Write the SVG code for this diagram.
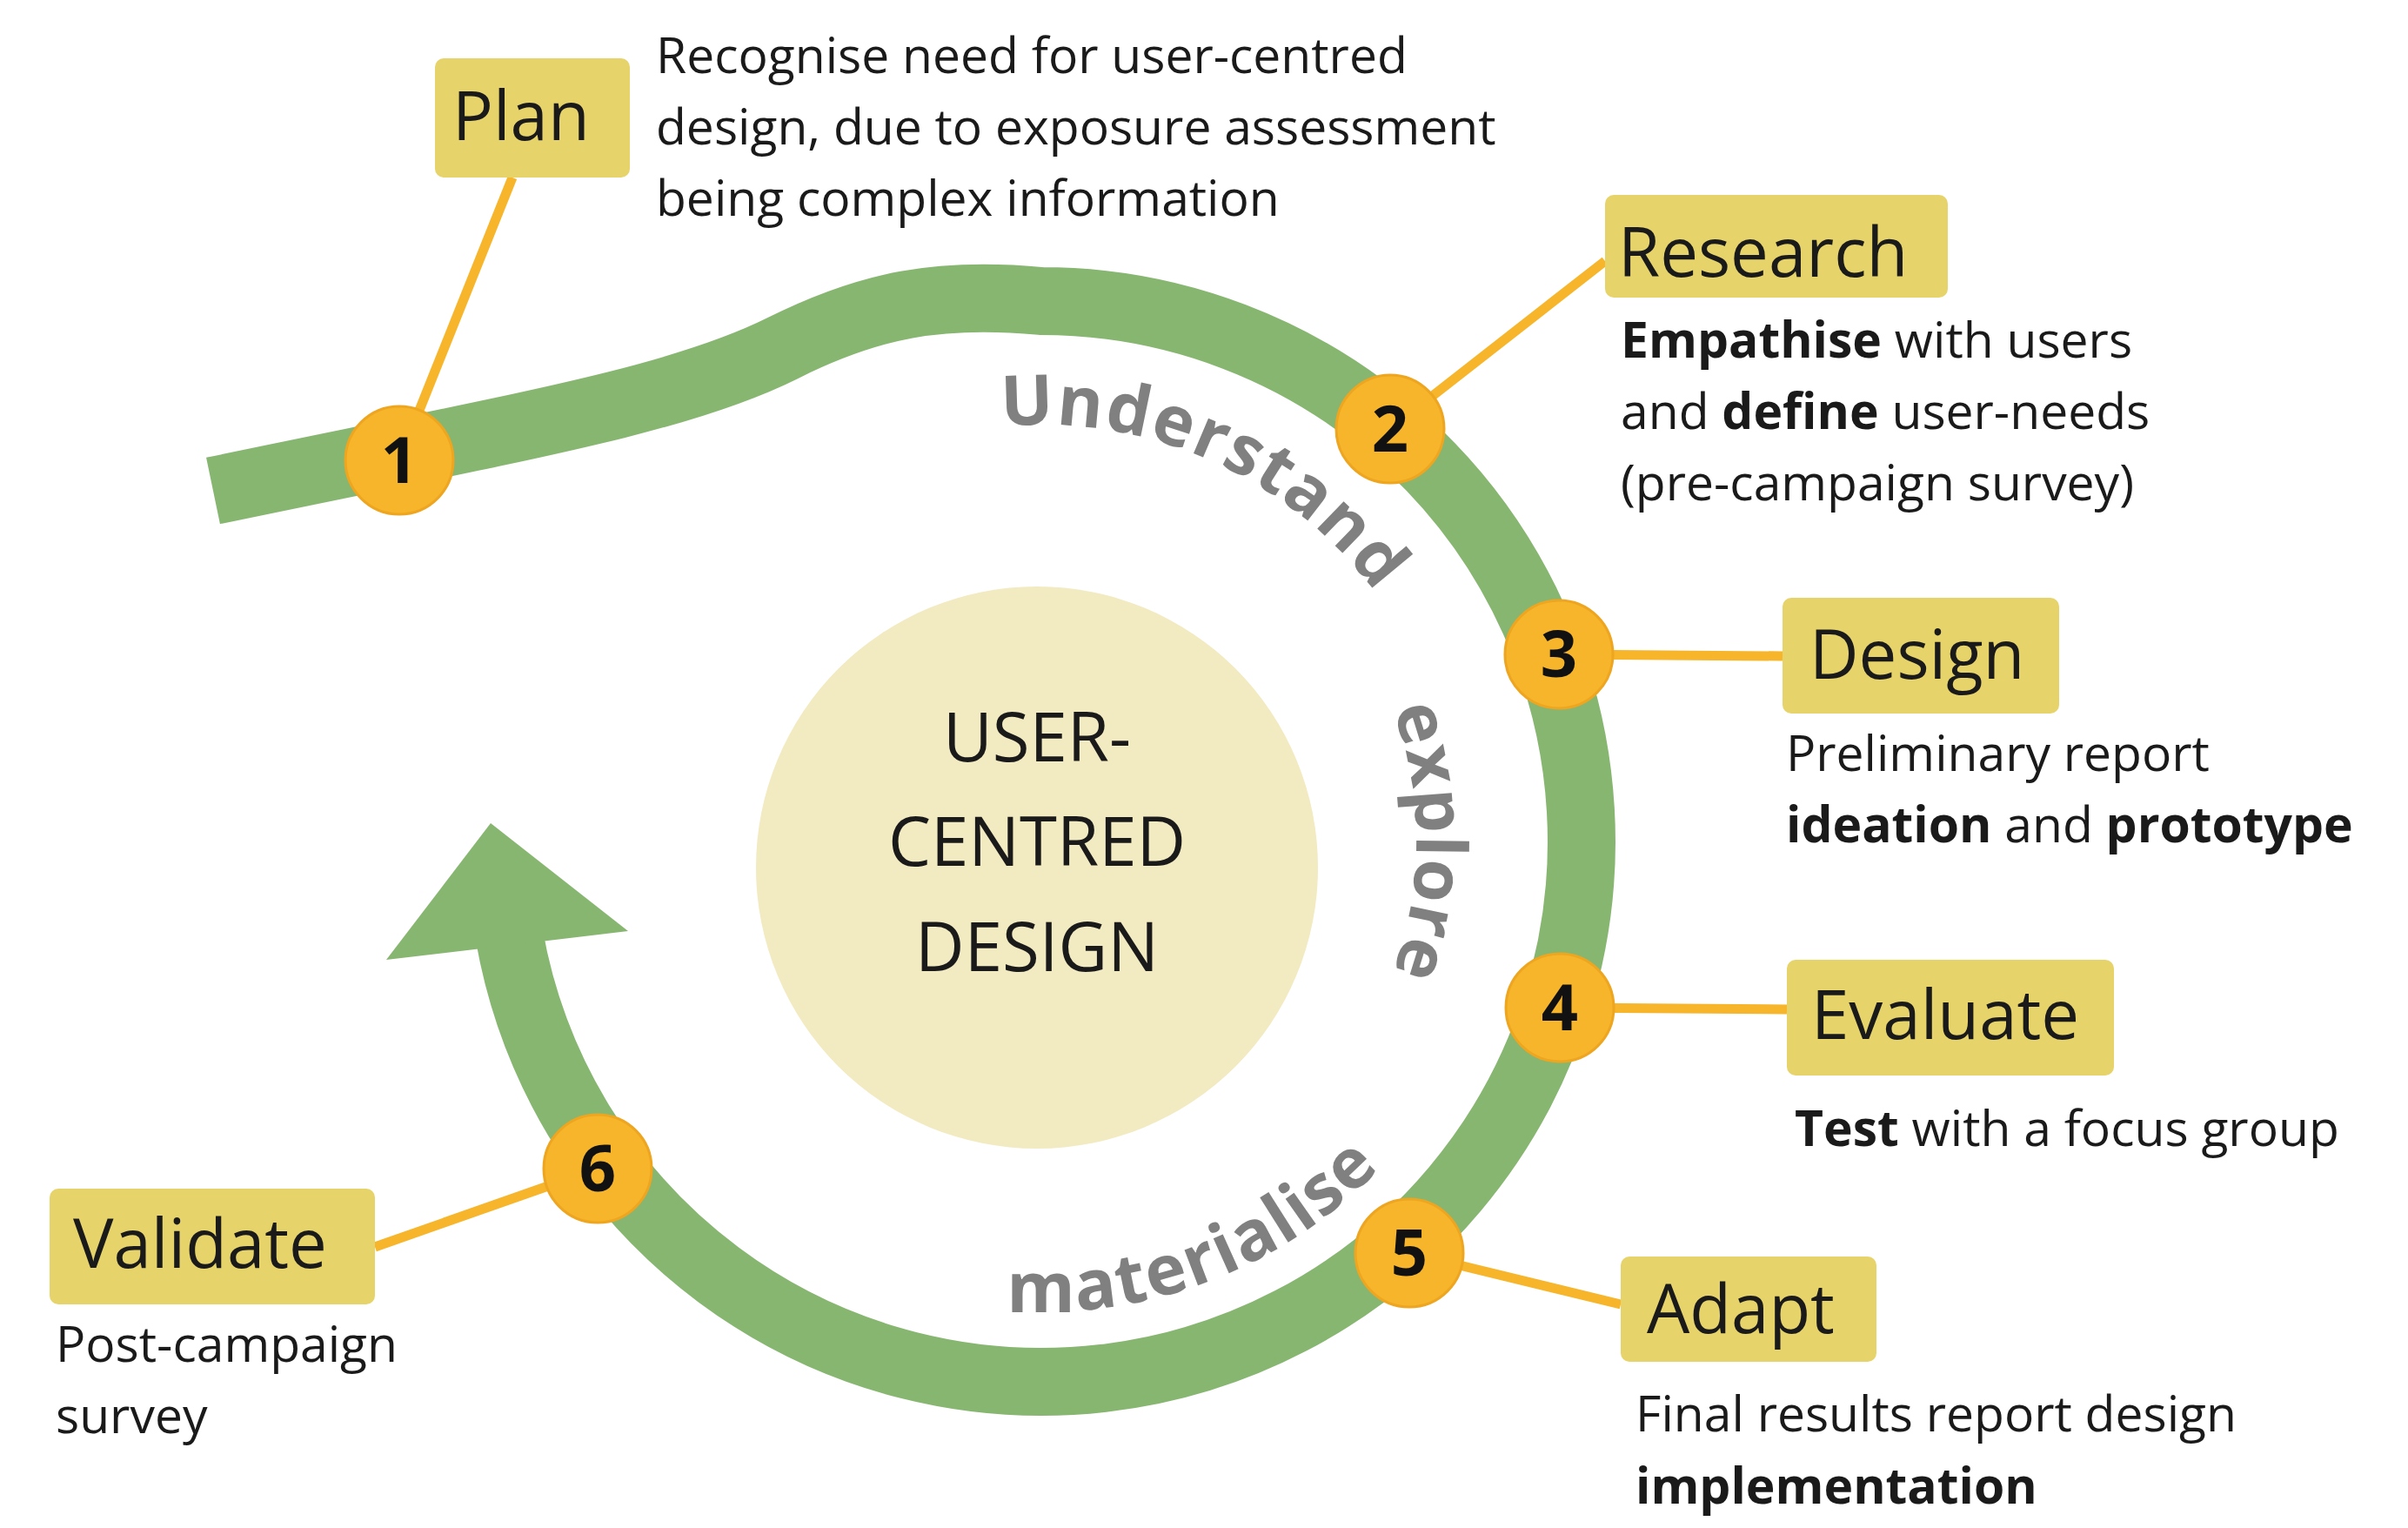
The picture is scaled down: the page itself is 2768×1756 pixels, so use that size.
<svg xmlns="http://www.w3.org/2000/svg" width="2768" height="1756" viewBox="0 0 2768 1756">
<style>
.box{fill:#e6d46a}
.bl{font-family:"Open Sans",sans-serif;font-size:78px;fill:#1a1a1a}
.ds{font-family:"Open Sans",sans-serif;font-size:57px;fill:#1a1a1a}
.b{font-weight:bold}
.nd{fill:#f6b52a;stroke:#eea520;stroke-width:3}
.num{font-family:"Open Sans",sans-serif;font-weight:bold;font-size:74px;fill:#111;text-anchor:middle}
.ln{stroke:#f6b52a;stroke-width:11;fill:none}
.arc{font-family:"Open Sans",sans-serif;font-weight:bold;font-size:80px;fill:#808080}
</style>
<defs>
<path id="pU" d="M957.5,552.2 A479,479 0 0 1 1665.5,867.4"/>
<path id="pE" d="M1527.2,690 A431,431 0 0 1 1527.2,1244"/>
<path id="pM" d="M1012,1475.4 A541,541 0 0 0 1674.7,1221"/>
</defs>
<rect width="2768" height="1756" fill="#fff"/>
<g id="flow">
<path d="M245,564 C600,490 780,460 900,400 C1000,350 1080,335 1197,346 A621,621 0 1 1 585.4,1074.8" fill="none" stroke="#87b670" stroke-width="78"/>
<polygon points="564,946 444,1103 722,1070" fill="#87b670"/>
</g>
<g id="center">
<circle cx="1192" cy="997" r="323" fill="#f2eac0"/>
<text class="bl" font-size="94" text-anchor="middle" x="1192" y="875">USER-</text>
<text class="bl" font-size="94" text-anchor="middle" x="1192" y="995">CENTRED</text>
<text class="bl" font-size="94" text-anchor="middle" x="1192" y="1116">DESIGN</text>
</g>
<g id="arclabels">
<text class="arc" letter-spacing="2"><textPath href="#pU" startOffset="50%" text-anchor="middle">Understand</textPath></text>
<text class="arc" letter-spacing="1"><textPath href="#pE" startOffset="50%" text-anchor="middle">explore</textPath></text>
<text class="arc" letter-spacing="2"><textPath href="#pM" startOffset="50%" text-anchor="middle">materialise</textPath></text>
</g>
<g id="connectors">
<line class="ln" x1="459" y1="529" x2="589" y2="204"/>
<line class="ln" x1="1598" y1="493" x2="1845" y2="300"/>
<line class="ln" x1="1792" y1="752" x2="2049" y2="754"/>
<line class="ln" x1="1793" y1="1158" x2="2054" y2="1160"/>
<line class="ln" x1="1620" y1="1440" x2="1863" y2="1499"/>
<line class="ln" x1="687" y1="1343" x2="431" y2="1433"/>
</g>
<g id="n1"><circle class="nd" cx="459" cy="529" r="62"/><text class="num" x="459" y="555">1</text></g>
<g id="n2"><circle class="nd" cx="1598" cy="493" r="62"/><text class="num" x="1598" y="519">2</text></g>
<g id="n3"><circle class="nd" cx="1792" cy="752" r="62"/><text class="num" x="1792" y="778">3</text></g>
<g id="n4"><circle class="nd" cx="1793" cy="1158" r="62"/><text class="num" x="1793" y="1184">4</text></g>
<g id="n5"><circle class="nd" cx="1620" cy="1440" r="62"/><text class="num" x="1620" y="1466">5</text></g>
<g id="n6"><circle class="nd" cx="687" cy="1343" r="62"/><text class="num" x="687" y="1369">6</text></g>
<g id="plan">
<rect class="box" x="500" y="67" width="224" height="137" rx="10"/>
<text class="bl" x="520" y="161">Plan</text>
<text class="ds" x="754" y="84">Recognise need for user-centred</text>
<text class="ds" x="754" y="166">design, due to exposure assessment</text>
<text class="ds" x="754" y="248">being complex information</text>
</g>
<g id="research">
<rect class="box" x="1845" y="224" width="394" height="118" rx="10"/>
<text class="bl" x="1860" y="318">Research</text>
<text class="ds" x="1863" y="411"><tspan class="b">Empathise</tspan> with users</text>
<text class="ds" x="1863" y="493">and <tspan class="b">define</tspan> user-needs</text>
<text class="ds" x="1863" y="575">(pre-campaign survey)</text>
</g>
<g id="design">
<rect class="box" x="2049" y="687" width="318" height="133" rx="10"/>
<text class="bl" x="2080" y="780">Design</text>
<text class="ds" x="2053" y="886">Preliminary report</text>
<text class="ds" x="2053" y="968"><tspan class="b">ideation</tspan> and <tspan class="b">prototype</tspan></text>
</g>
<g id="evaluate">
<rect class="box" x="2054" y="1103" width="376" height="133" rx="10"/>
<text class="bl" x="2082" y="1194">Evaluate</text>
<text class="ds" x="2063" y="1317"><tspan class="b">Test</tspan> with a focus group</text>
</g>
<g id="adapt">
<rect class="box" x="1863" y="1444" width="294" height="121" rx="10"/>
<text class="bl" x="1893" y="1532">Adapt</text>
<text class="ds" x="1880" y="1645">Final results report design</text>
<text class="ds b" x="1880" y="1728">implementation</text>
</g>
<g id="validate">
<rect class="box" x="57" y="1366" width="374" height="133" rx="10"/>
<text class="bl" x="84" y="1457">Validate</text>
<text class="ds" x="64" y="1565">Post-campaign</text>
<text class="ds" x="64" y="1647">survey</text>
</g>
</svg>
